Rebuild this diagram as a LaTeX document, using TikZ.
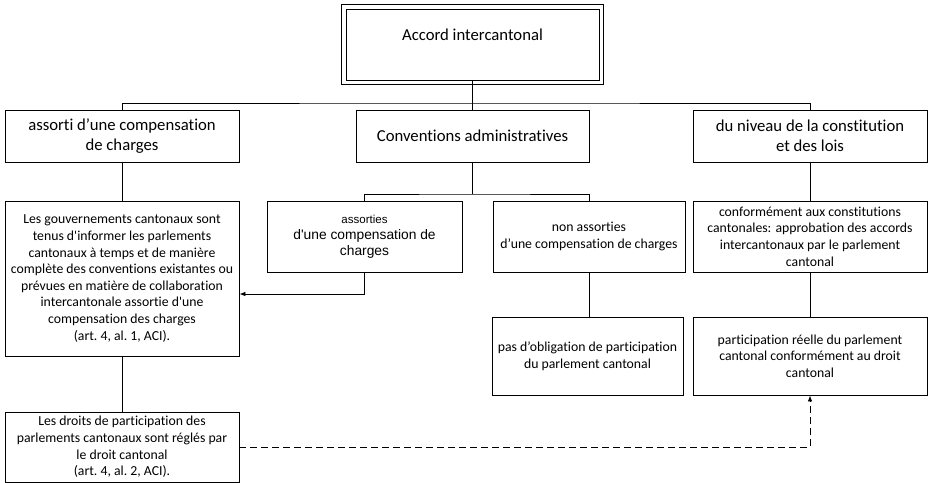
\documentclass[tikz,border=0pt]{standalone}
\usepackage{fontspec}
\setmainfont{Carlito}[Ligatures={TeX,NoCommon}]
\newfontfamily\arialfont{Liberation Sans}
\usetikzlibrary{arrows.meta}

\begin{document}
\begin{tikzpicture}[
        x=1pt, y=-1pt,
        every node/.style={font=\fontsize{13.75}{16.6}\selectfont},
        block/.style={
            draw,
            line width=0.8pt,
            minimum width=234pt,
            minimum height=52pt,
            inner sep=1pt,
            align=center,
            font=\fontsize{16.7}{20}\selectfont
        },
        obj/.style={
            draw,
            line width=0.8pt,
            minimum width=234pt,
            inner sep=1pt,
            align=center
        },
        link/.style={line width=0.8pt},
        arrow/.style={-{Latex[length=6pt,width=4.5pt]}, line width=0.8pt}
    ]
    \useasboundingbox (0,0) rectangle (928,482);

    % Agreement at the top (double frame)
    \node[block, minimum width=253pt, minimum height=71pt] (accord) at (472.5,44.5) {Accord intercantonal\\ \mbox{}};
    \draw[link] ([xshift=-4pt,yshift=4pt]accord.north west) rectangle ([xshift=4pt,yshift=-3.5pt]accord.south east);

    % Three kinds of agreements
    \node[block] (assorti) at (122,136) {assorti d’une compensation\\de charges};
    \node[block, minimum width=233pt] (admin) at (472.5,136) {Conventions administratives};
    \node[block] (niveau) at (810,136) {du niveau de la constitution\\et des lois};

    % Second level
    \node[obj, minimum height=155pt] (informer) at (122,278.5) {Les gouvernements cantonaux sont\\tenus d\textquotesingle informer les parlements\\cantonaux à temps et de manière\\complète des conventions existantes ou\\prévues en matière de collaboration\\intercantonale assortie d\textquotesingle une\\compensation des charges\\(art.~4, al.~1, ACI).};
    \node[obj, minimum width=195pt, minimum height=71pt, font=\arialfont\fontsize{13.8}{16}\selectfont] (assorties) at (364.5,236.5) {{\fontsize{11.5}{16}\selectfont assorties}\\d\textquotesingle une compensation de\\charges};
    \node[obj, minimum width=192pt, minimum height=71pt] (nonassorties) at (589,236.5) {non assorties\\d’une compensation de charges};
    \node[obj, minimum height=71pt] (conforme) at (810,236.5) {conformément aux constitutions\\cantonales: approbation des accords\\intercantonaux par le parlement\\cantonal};

    % Third level
    \node[obj, minimum width=191pt, minimum height=78pt] (pasoblig) at (587.5,356) {pas d’obligation de participation\\du parlement cantonal};
    \node[obj, minimum height=78pt] (reelle) at (810,356) {participation réelle du parlement\\cantonal conformément au droit\\cantonal};
    \node[obj, minimum height=70pt] (droits) at (122,447) {Les droits de participation des\\parlements cantonaux sont réglés par\\le droit cantonal\\(art.~4, al.~2, ACI).};

    % Bends of the tree
    \coordinate (bus) at (472.5,103);
    \coordinate (subbus) at (472.5,194);
    \coordinate (bend) at (364.5,294);

    % Tree lines
    \draw[link] (accord) -- (admin);
    \draw[link] (assorti.north) |- (bus) -| (niveau.north);
    \draw[link] (admin) -- (subbus);
    \draw[link] (assorties.north) |- (subbus) -| (nonassorties.north);
    \draw[link] (assorti) -- (informer);
    \draw[link] (informer) -- (droits);
    \draw[link] (niveau) -- (conforme);
    \draw[link] (conforme) -- (reelle);
    \draw[link] (nonassorties.south) -- (nonassorties.south |- pasoblig.north);

    % Arrows
    \draw[arrow] (assorties.south) |- (informer.east |- bend);
    \draw[arrow, dash pattern=on 7pt off 4pt] (droits.east) -| (reelle.south);

\end{tikzpicture}
\end{document}
